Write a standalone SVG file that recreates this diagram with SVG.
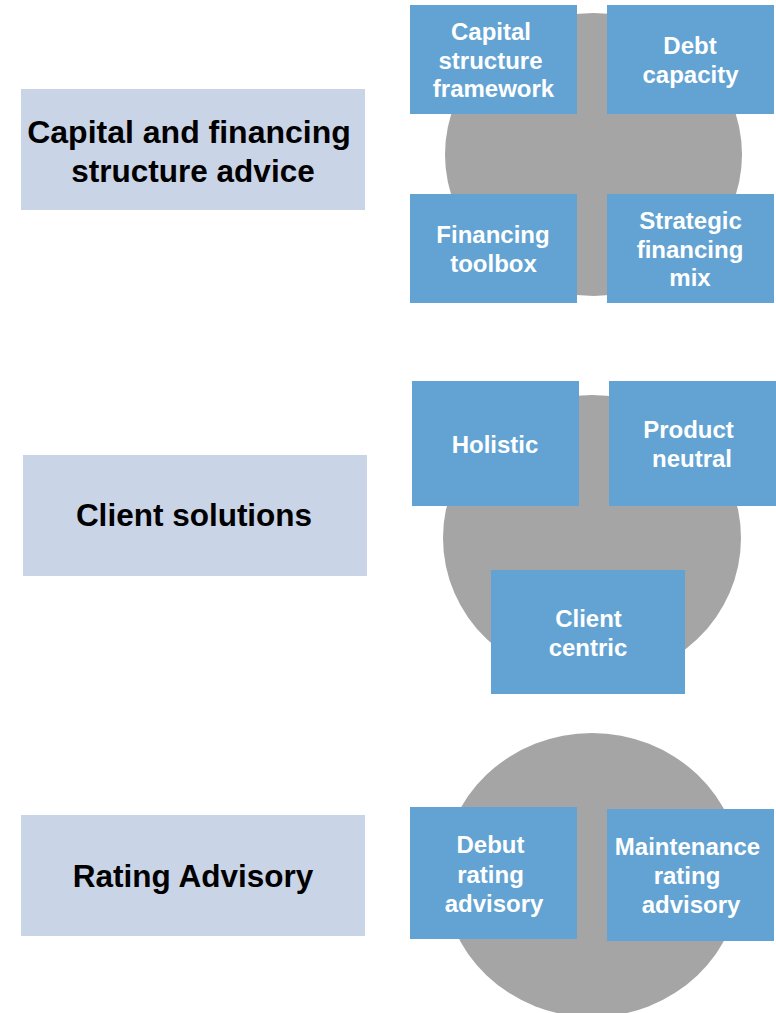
<svg xmlns="http://www.w3.org/2000/svg" width="776" height="1013" viewBox="0 0 776 1013">
<style>
.bg{fill:#ffffff}
.disc{fill:#a5a5a5}
.tile{fill:#62a3d3}
.head{fill:#c9d4e6}
.tl{font-family:"Liberation Sans",Arial,sans-serif;font-weight:bold;font-size:24px;fill:#ffffff;text-anchor:middle}
.th{font-family:"Liberation Sans",Arial,sans-serif;font-weight:bold;font-size:31.5px;fill:#000000;text-anchor:middle}
</style>
<rect class="bg" x="0" y="0" width="776" height="1013"/>
<g id="connectors"></g>

<g id="section1-title">
<rect class="head" x="21" y="89" width="344" height="121"/>
<text class="th" x="189" y="143" style="font-size:32px">Capital and financing</text>
<text class="th" x="193" y="181.5">structure advice</text>
</g>
<g id="section1-disc"><ellipse class="disc" cx="593.5" cy="154.5" rx="148.5" ry="141.5"/></g>
<g id="node-capital-structure">
<rect class="tile" x="410" y="5" width="167" height="109"/>
<text class="tl" x="491" y="40">Capital</text>
<text class="tl" x="490.5" y="68.5">structure</text>
<text class="tl" x="493.5" y="97">framework</text>
</g>
<g id="node-debt-capacity">
<rect class="tile" x="607" y="5" width="167" height="109"/>
<text class="tl" x="690" y="54">Debt</text>
<text class="tl" x="690.5" y="82.5">capacity</text>
</g>
<g id="node-financing-toolbox">
<rect class="tile" x="410" y="194" width="167" height="109"/>
<text class="tl" x="493" y="243">Financing</text>
<text class="tl" x="493.5" y="271.5">toolbox</text>
</g>
<g id="node-strategic-mix">
<rect class="tile" x="607" y="194" width="167" height="109"/>
<text class="tl" x="690.5" y="229">Strategic</text>
<text class="tl" x="690" y="257.5">financing</text>
<text class="tl" x="690" y="286">mix</text>
</g>

<g id="section2-title">
<rect class="head" x="23" y="455" width="344" height="121"/>
<text class="th" x="194" y="526">Client solutions</text>
</g>
<g id="section2-disc"><ellipse class="disc" cx="592" cy="538" rx="149" ry="143"/></g>
<g id="node-holistic">
<rect class="tile" x="412" y="381" width="167" height="125"/>
<text class="tl" x="495" y="453">Holistic</text>
</g>
<g id="node-product-neutral">
<rect class="tile" x="609" y="381" width="167" height="125"/>
<text class="tl" x="688.5" y="438">Product</text>
<text class="tl" x="692" y="467">neutral</text>
</g>
<g id="node-client-centric">
<rect class="tile" x="491" y="570" width="194" height="124"/>
<text class="tl" x="588.5" y="627">Client</text>
<text class="tl" x="588" y="656">centric</text>
</g>

<g id="section3-title">
<rect class="head" x="21" y="815" width="344" height="121"/>
<text class="th" x="193" y="887">Rating Advisory</text>
</g>
<g id="section3-disc"><ellipse class="disc" cx="592" cy="875" rx="149" ry="142"/></g>
<g id="node-debut-rating">
<rect class="tile" x="410" y="807" width="167" height="132"/>
<text class="tl" x="490.5" y="853">Debut</text>
<text class="tl" x="490.5" y="882.5">rating</text>
<text class="tl" x="494" y="912">advisory</text>
</g>
<g id="node-maintenance-rating">
<rect class="tile" x="607" y="809" width="167" height="132"/>
<text class="tl" x="687.5" y="855">Maintenance</text>
<text class="tl" x="687" y="884">rating</text>
<text class="tl" x="691" y="913">advisory</text>
</g>
</svg>
